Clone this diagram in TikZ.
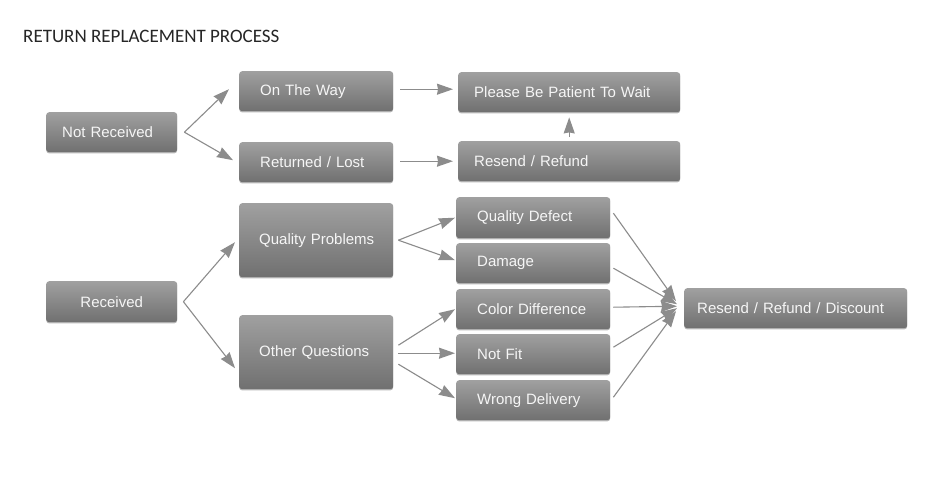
\documentclass[tikz,border=0pt]{standalone}
\usepackage{fontspec}
\setmainfont{Liberation Sans}
\newfontfamily\titlefont{Carlito}
\usepackage{tikz}
\usetikzlibrary{arrows.meta,shapes,shadows}
\usepackage{xcolor}
\definecolor{boxtop}{RGB}{160,160,160}
\definecolor{boxbot}{RGB}{112,112,112}
\definecolor{boxtext}{RGB}{246,246,246}
\definecolor{arrowgray}{RGB}{140,140,140}
\tikzstyle{box} = [rectangle, rounded corners=3pt, anchor=north west, top color=boxtop, bottom color=boxbot, text=boxtext, font=\fontsize{15}{18}\selectfont, align=left, inner ysep=0pt, drop shadow={shadow xshift=0pt, shadow yshift=-1.2pt, opacity=0.55}]
\tikzstyle{arrow} = [line width=1.1pt, ->, >={Stealth[length=16pt,width=11pt,inset=1pt]}, color=arrowgray]

\begin{document}
\begin{tikzpicture}[x=1pt, y=-1pt]
\fill[white] (0,0) rectangle (950,493);
\useasboundingbox (0,0) rectangle (950,493);

% Title
\node[anchor=base west, inner sep=0pt, text=black!85, font=\titlefont\fontsize{19}{23}\selectfont] (title) at (23,42) {RETURN REPLACEMENT PROCESS};

% Not received branch
\node[box, minimum height=40pt, inner xsep=16pt, text width=99pt] (nrec) at (46,112) {Not Received};
\node[box, minimum height=40pt, inner xsep=21pt, text width=112pt] (way) at (239,71) {On The Way};
\node[box, minimum height=40pt, inner xsep=21pt, text width=112pt] (lost) at (239,142) {Returned / Lost};
\node[box, minimum height=40pt, inner xsep=16pt, text width=190pt] (wait) at (458,72) {Please Be Patient To Wait};
\node[box, minimum height=40pt, inner xsep=16pt, text width=190pt] (resend) at (458,141) {Resend / Refund};

% Received branch
\node[box, minimum height=41pt, inner xsep=16pt, text width=99pt, align=center] (rec) at (46,281) {Received};
\node[box, minimum height=74pt, inner xsep=20pt, text width=114pt] (qual) at (239,203) {\mbox{Quality Problems}};
\node[box, minimum height=74pt, inner xsep=20pt, text width=114pt] (other) at (239,315) {\mbox{Other Questions}};
\node[box, minimum height=41pt, inner xsep=21pt, text width=112pt] (defect) at (456,197) {Quality Defect};
\node[box, minimum height=40pt, inner xsep=21pt, text width=112pt] (damage) at (456,243) {Damage};
\node[box, minimum height=40pt, inner xsep=21pt, text width=112pt] (color) at (456,289) {Color Difference};
\node[box, minimum height=40pt, inner xsep=21pt, text width=112pt] (notfit) at (456,334) {Not Fit};
\node[box, minimum height=40pt, inner xsep=21pt, text width=112pt] (wrong) at (456,380) {Wrong Delivery};
\node[box, minimum height=40pt, inner xsep=13pt, text width=197pt] (final) at (684,288) {Resend / Refund / Discount};

% Arrows, not received
\draw[arrow] ([xshift=7pt]nrec.east) -- ([xshift=-10pt,yshift=2pt]way.west);
\draw[arrow] ([xshift=7pt]nrec.east) -- ([xshift=-6pt,yshift=2pt]lost.west);
\draw[arrow] ([xshift=7pt,yshift=2pt]way.east) -- ([xshift=-5pt,yshift=2pt]way.east -| wait.west);
\draw[arrow] ([xshift=7pt,yshift=1pt]lost.east) -- ([xshift=-5pt,yshift=1pt]lost.east -| resend.west);
\draw[arrow] ([yshift=4pt]resend.north) -- ([yshift=-5pt]wait.south);

% Arrows, received
\draw[arrow] ([xshift=6pt]rec.east) -- ([xshift=-4pt,yshift=-2pt]qual.west);
\draw[arrow] ([xshift=6pt]rec.east) -- ([xshift=-4pt,yshift=-16pt]other.west);
\draw[arrow] ([xshift=5pt]qual.east) -- ([xshift=-1pt]defect.west);
\draw[arrow] ([xshift=5pt]qual.east) -- ([xshift=-1pt,yshift=3pt]damage.west);
\draw[arrow] ([xshift=5pt,yshift=7pt]other.east) -- ([xshift=-1pt]color.west);
\draw[arrow] ([xshift=5pt,yshift=-1pt]other.east) -- ([xshift=-1pt,yshift=-1pt]other.east -| notfit.west);
\draw[arrow] ([xshift=5pt,yshift=-12pt]other.east) -- ([xshift=-1pt,yshift=2pt]wrong.west);

% Into the last box
\draw[arrow] ([xshift=3pt,yshift=4.5pt]defect.east) -- ([xshift=-8pt,yshift=7pt]final.west);
\draw[arrow] ([xshift=3pt,yshift=-5pt]damage.east) -- ([xshift=-7pt,yshift=4pt]final.west);
\draw[arrow] ([xshift=3pt,yshift=2pt]color.east) -- ([xshift=-7pt,yshift=2pt]final.west);
\draw[arrow] ([xshift=3pt,yshift=7pt]notfit.east) -- ([xshift=-7pt,yshift=0pt]final.west);
\draw[arrow] ([xshift=3pt,yshift=3pt]wrong.east) -- ([xshift=-8pt,yshift=-3pt]final.west);
\end{tikzpicture}
\end{document}
